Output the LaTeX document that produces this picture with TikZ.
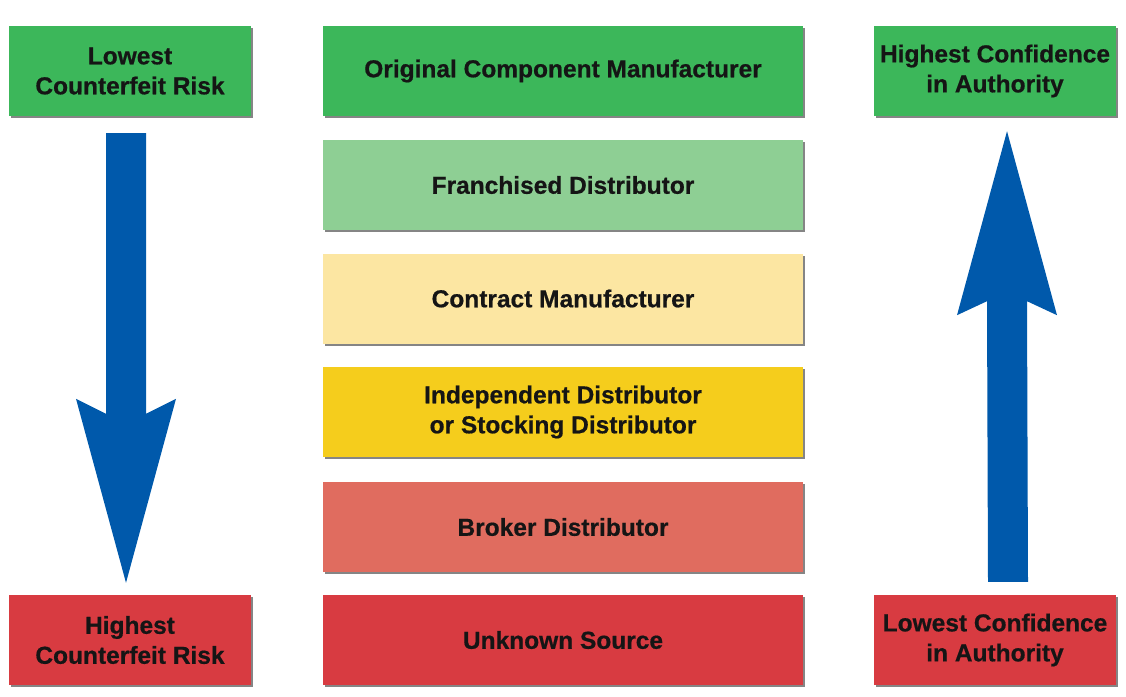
\documentclass[tikz,border=0pt]{standalone}
\usepackage{fontspec}
\setmainfont{Liberation Sans}[BoldFeatures={FakeBold=0.6}]
\usetikzlibrary{calc,shadows}
\definecolor{dgreen}{HTML}{3CB75A}
\definecolor{lgreen}{HTML}{8ECF94}
\definecolor{pyellow}{HTML}{FCE6A2}
\definecolor{yyellow}{HTML}{F5CD1C}
\definecolor{salmon}{HTML}{E06C5F}
\definecolor{rred}{HTML}{D83B41}
\definecolor{arrowblue}{HTML}{0059AB}
\definecolor{txt}{HTML}{151515}
\begin{document}
\begin{tikzpicture}[x=1pt,y=-1pt,
  box/.style={draw=none, minimum height=90pt, inner sep=0pt, align=center,
    font=\fontsize{24.5}{30}\selectfont\bfseries, text=txt,
    drop shadow={shadow xshift=1.5pt, shadow yshift=-2pt, fill=black!80, opacity=0.6}},
  side/.style={box, minimum width=242pt},
  mid/.style={box, minimum width=480pt},
  bigarrow/.style={fill=arrowblue, draw=none}]
\useasboundingbox (0,0) rectangle (1126,696);

% left column
\node[side, fill=dgreen] (lt) at (130,71) {Lowest\\Counterfeit Risk};
\node[side, fill=rred]   (lb) at (130,640) {Highest\\Counterfeit Risk};

% middle column
\node[mid, fill=dgreen]  (m1) at (563,71)    {Original Component Manufacturer};
\node[mid, fill=lgreen]  (m2) at (563,185)   {Franchised Distributor};
\node[mid, fill=pyellow] (m3) at (563,298.5) {Contract Manufacturer};
\node[mid, fill=yyellow] (m4) at (563,412)   {Independent Distributor\\or Stocking Distributor};
\node[mid, fill=salmon]  (m5) at (563,527)   {Broker Distributor};
\node[mid, fill=rred]    (m6) at (563,640)   {Unknown Source};

% right column
\node[side, fill=dgreen] (rt) at (995,71) {Highest Confidence\\in Authority};
\node[side, fill=rred]   (rb) at (995,640) {Lowest Confidence\\in Authority};

% left arrow (down)
\coordinate (ds) at ($(lt.south)+(-4,17)$);
\coordinate (dt) at ($(lb.north)+(-4,-12)$);
\fill[bigarrow] ($(ds)+(-20,0)$) -- ($(ds)+(20,0)$) -- ($(dt)+(20,-169)$)
  -- ($(dt)+(50,-184)$) -- (dt) -- ($(dt)+(-50,-184)$) -- ($(dt)+(-20,-169)$) -- cycle;

% right arrow (up)
\coordinate (us) at ($(rb.north)+(13,-13)$);
\coordinate (ut) at ($(rt.south)+(12,15)$);
\fill[bigarrow] ($(us)+(-20,0)$) -- ($(us)+(20,0)$) -- ($(ut)+(20,170)$)
  -- ($(ut)+(50,184)$) -- (ut) -- ($(ut)+(-50,184)$) -- ($(ut)+(-20,170)$) -- cycle;
\end{tikzpicture}
\end{document}
